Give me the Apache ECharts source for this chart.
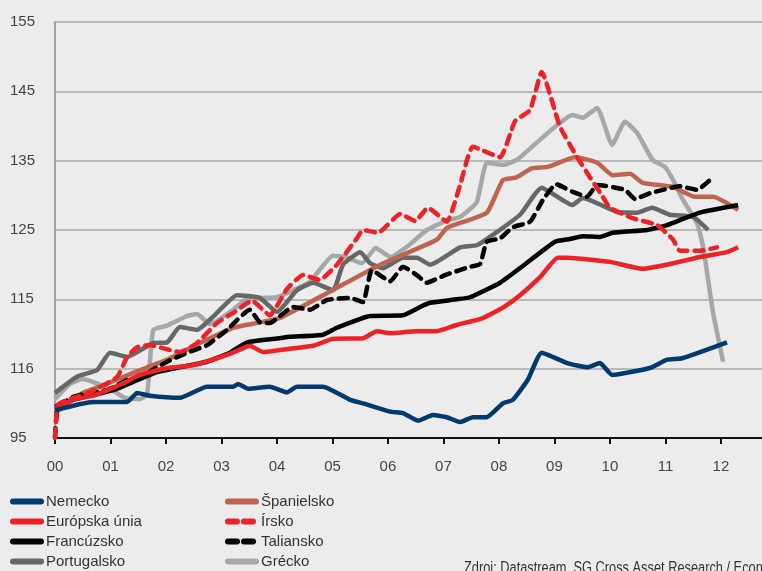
<!DOCTYPE html>
<html>
<head>
<meta charset="utf-8">
<script src="https://cdn.jsdelivr.net/npm/echarts@6/dist/echarts.min.js"></script>
<style>
html,body{margin:0;padding:0;background:#ececec;}
#chart{width:762px;height:571px;}
</style>
</head>
<body>
<div id="chart"></div>
<script>
// x = years since 2000, y = index value
const xTickLabels = ['00','01','02','03','04','05','06','07','08','09','10','11','12'];
const yTickLabels = ['95','116','115','125','135','145','155'];

const nemecko = [[0,99.0],[0.68,100.2],[1.30,100.2],[1.48,101.5],[1.71,101.1],[2.25,100.8],[2.74,102.4],[3.21,102.4],[3.30,102.8],[3.48,102.1],[3.87,102.4],[4.18,101.6],[4.36,102.4],[4.83,102.4],[5.32,100.5],[5.55,100.0],[6.04,98.8],[6.27,98.6],[6.54,97.5],[6.81,98.3],[7.06,98.0],[7.30,97.3],[7.53,98.0],[7.78,98.0],[8.07,100.0],[8.25,100.5],[8.52,103.4],[8.77,107.3],[9.23,105.8],[9.59,105.2],[9.82,105.8],[10.04,104.1],[10.72,105.1],[11.03,106.3],[11.30,106.5],[12.11,108.8]];
const europskaUnia = [[0,99.2],[0.32,100.5],[0.72,101.2],[1.23,102.9],[1.53,104.1],[2.02,105.1],[2.49,105.5],[2.92,106.5],[3.21,107.3],[3.51,108.3],[3.75,107.4],[4.05,107.7],[4.65,108.3],[5.01,109.3],[5.55,109.4],[5.80,110.4],[6.04,110.1],[6.52,110.4],[6.88,110.4],[7.24,111.3],[7.71,112.3],[8.07,113.8],[8.38,115.6],[8.74,118.2],[9.06,121.0],[9.23,121.0],[10.0,120.4],[10.59,119.4],[11.14,120.2],[11.62,121.1],[12.11,121.8],[12.31,122.5]];
const francuzsko = [[0,99.5],[0.32,100.5],[0.68,101.2],[1.05,101.9],[1.41,103.1],[1.84,104.5],[2.25,105.2],[2.74,106.0],[3.15,107.3],[3.46,108.8],[4.05,109.4],[4.23,109.6],[4.83,109.9],[5.08,110.9],[5.68,112.6],[6.27,112.7],[6.58,113.9],[6.76,114.5],[7.24,115.0],[7.48,115.3],[8.02,117.4],[8.38,119.5],[9.01,123.3],[9.28,123.7],[9.51,124.1],[9.82,124.0],[10.05,124.6],[10.67,125.0],[11.03,125.7],[11.62,127.5],[12.31,128.6]];
const portugalsko = [[0,101.5],[0.41,103.9],[0.76,104.8],[0.99,107.3],[1.30,106.7],[1.48,107.4],[1.77,108.7],[2.02,108.8],[2.25,111.0],[2.56,110.6],[2.85,112.5],[3.28,115.6],[3.69,115.2],[4.0,113.2],[4.36,116.3],[4.65,117.4],[5.01,116.3],[5.19,120.0],[5.50,121.8],[5.68,120.2],[5.91,119.5],[6.27,121.0],[6.52,121.0],[6.76,120.0],[7.30,122.5],[7.60,122.8],[7.89,124.3],[8.38,127.2],[8.77,131.1],[9.32,128.6],[9.51,129.6],[10.13,127.6],[10.49,127.5],[10.76,128.2],[11.08,127.2],[11.5,126.9],[11.77,125.0]];
const spanielsko = [[0,98.6],[0.50,101.5],[0.81,102.4],[1.41,104.4],[2.02,106.3],[2.61,108.7],[3.21,110.9],[3.64,111.6],[4.05,112.3],[4.95,116.1],[5.86,120.0],[6.88,123.6],[7.06,125.3],[7.78,127.5],[8.07,132.2],[8.32,132.6],[8.59,133.9],[8.88,134.1],[9.37,135.5],[9.77,134.7],[10.05,132.9],[10.36,133.1],[10.59,131.8],[11.14,131.2],[11.53,129.8],[11.86,129.8],[12.31,127.9]];
const irsko = [[0,95.0],[0.05,99.8],[0.22,100.5],[0.63,101.6],[1.12,103.8],[1.30,106.7],[1.48,108.1],[1.71,108.4],[2.02,107.8],[2.25,107.4],[2.56,108.7],[2.92,111.6],[3.24,113.2],[3.55,114.8],[3.87,112.7],[4.18,116.5],[4.47,118.5],[4.77,117.8],[5.08,120.0],[5.44,123.8],[5.55,125.0],[5.82,124.6],[6.22,127.3],[6.49,126.3],[6.72,128.2],[7.06,126.2],[7.30,131.5],[7.53,137.0],[8.02,135.5],[8.29,140.7],[8.56,142.3],[8.77,147.8],[9.10,139.9],[9.41,135.5],[9.64,132.6],[9.87,129.8],[10.0,128.2],[10.41,126.7],[10.85,125.7],[11.14,123.6],[11.26,122.0],[11.62,122.0],[11.93,122.5]];
const taliansko = [[0,95.1],[0.05,99.3],[0.32,100.9],[0.63,101.5],[0.94,101.9],[1.30,103.4],[1.53,103.8],[2.02,106.0],[2.38,107.3],[2.74,108.4],[3.10,110.6],[3.51,113.5],[3.69,111.7],[3.87,111.6],[4.29,113.9],[4.59,113.5],[4.90,114.9],[5.32,115.2],[5.55,114.6],[5.71,119.2],[6.04,117.6],[6.27,119.7],[6.52,118.5],[6.70,117.4],[7.03,118.5],[7.48,119.7],[7.66,120.1],[7.78,123.3],[8.02,123.8],[8.25,125.4],[8.56,126.2],[8.79,129.3],[9.03,131.6],[9.33,130.5],[9.59,129.8],[9.77,131.5],[10.27,130.8],[10.45,129.5],[10.72,130.3],[11.26,131.3],[11.57,130.8],[11.80,132.2]];
const grecko = [[0,100.6],[0.27,102.8],[0.50,103.5],[0.68,103.1],[0.99,102.1],[1.26,100.8],[1.53,100.6],[1.66,101.3],[1.77,110.6],[2.02,111.2],[2.38,112.6],[2.56,112.9],[2.79,111.4],[3.21,113.5],[3.42,114.9],[3.69,115.2],[4.0,115.3],[4.29,116.3],[4.59,117.5],[5.01,121.3],[5.23,121.1],[5.53,120.2],[5.78,122.4],[6.05,121.1],[6.36,122.7],[6.70,125.0],[7.06,126.4],[7.30,126.9],[7.60,129.0],[7.78,134.7],[8.07,134.4],[8.32,135.1],[8.68,137.6],[9.01,139.9],[9.32,141.6],[9.51,141.2],[9.77,142.6],[10.04,137.3],[10.27,140.6],[10.49,139.0],[10.77,135.1],[10.99,134.1],[11.14,132.2],[11.32,129.3],[11.57,126.0],[11.68,122.5],[11.86,113.0],[12.04,106.0]];

const FONT = "'Liberation Sans Narrow', 'Arial Narrow', 'Liberation Sans', sans-serif";
const C_RED = '#ec2227', C_BLUE = '#003a6e', C_BROWN = '#bf654f', C_DGRAY = '#676767', C_LGRAY = '#a6a7a9';

function line(name, data, color, dashed) {
  return {
    name, type: 'line', data, symbol: 'none', smooth: 0.15,
    lineStyle: { color, width: 4.5, type: dashed ? [9, 7] : 'solid', cap: dashed ? 'round' : 'butt', join: 'round' },
    itemStyle: { color }
  };
}

const chart = echarts.init(document.getElementById('chart'));
const legendBase = {
  orient: 'vertical', padding: 0, itemWidth: 28, itemHeight: 12, itemGap: 5, itemTextGap: 10, height: 90,
  itemStyle: { opacity: 0 },
  lineStyle: { width: 6, cap: 'round' },
  textStyle: { fontFamily: FONT, fontSize: 15, color: '#333' }, selectedMode: false
};
chart.setOption({
  backgroundColor: '#ececec',
  animation: false,
  grid: { left: 55, top: 22, right: 0, bottom: 133 },
  xAxis: {
    type: 'value', min: 0, max: 12.74, interval: 1,
    axisLine: { lineStyle: { color: '#111', width: 2 } },
    axisTick: { show: true, length: 6, lineStyle: { color: '#111', width: 2 } },
    splitLine: { show: false },
    axisLabel: {
      margin: 21, fontFamily: FONT, fontSize: 15, color: '#444', showMaxLabel: false,
      formatter: v => Number.isInteger(v) ? (xTickLabels[v] || '') : ''
    }
  },
  yAxis: {
    type: 'value', min: 95, max: 155, interval: 10,
    axisLine: { show: true, lineStyle: { color: '#a3a3a3', width: 2 } },
    axisTick: { show: false },
    splitLine: { lineStyle: { color: '#a8a8a8', width: 1.5 } },
    axisLabel: {
      align: 'left', margin: 45, fontFamily: FONT, fontSize: 15, color: '#444',
      formatter: v => yTickLabels[Math.round((v - 95) / 10)]
    }
  },
  legend: [
    Object.assign({ left: 10, top: 494, data: ['Nemecko', 'Európska únia', 'Francúzsko', 'Portugalsko'] }, legendBase),
    Object.assign({ left: 225, top: 494, data: ['Španielsko', 'Írsko', 'Taliansko', 'Grécko'] }, legendBase)
  ],
  graphic: [{
    type: 'text', left: 464, top: 561, scaleX: 0.8,
    style: { text: 'Zdroj: Datastream, SG Cross Asset Research / Economics', fontFamily: FONT, fontSize: 16, fill: '#333' }
  }],
  series: [
    line('Grécko', grecko, C_LGRAY, false),
    line('Portugalsko', portugalsko, C_DGRAY, false),
    line('Španielsko', spanielsko, C_BROWN, false),
    line('Taliansko', taliansko, '#000', true),
    line('Francúzsko', francuzsko, '#000', false),
    line('Európska únia', europskaUnia, C_RED, false),
    line('Írsko', irsko, C_RED, true),
    line('Nemecko', nemecko, C_BLUE, false)
  ]
});
</script>
</body>
</html>
